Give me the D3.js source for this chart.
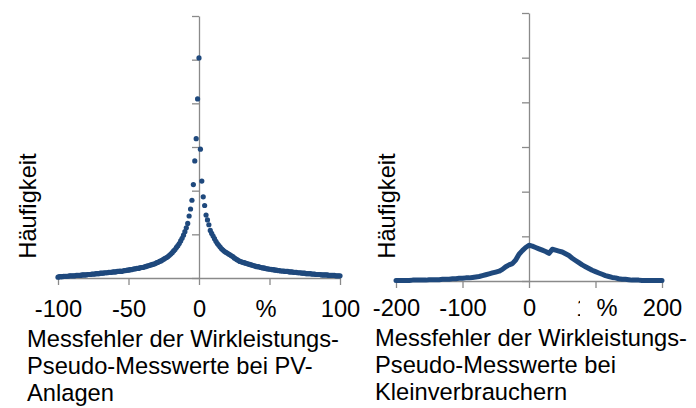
<!DOCTYPE html>
<html>
<head>
<meta charset="utf-8">
<script src="https://cdn.jsdelivr.net/npm/d3@7"></script>
<style>
  body { margin: 0; background: #fff; }
  svg { display: block; font-family: 'Liberation Sans', Arial, sans-serif; }
</style>
</head>
<body>
<svg id="chart" width="696" height="408"></svg>
<script>
// left panel: PV error histogram, 1 % bins
const pvBins = d3.range(-100, 101);
const pvCounts = [
  0.02, 0.03, 0.03, 0.03, 0.04, 0.04, 0.04, 0.04, 0.05, 0.05, 0.05,
  0.05, 0.05, 0.06, 0.06, 0.06, 0.06, 0.07, 0.07, 0.07, 0.07,
  0.08, 0.08, 0.08, 0.09, 0.09, 0.09, 0.10, 0.10, 0.10, 0.11,
  0.11, 0.11, 0.12, 0.12, 0.12, 0.13, 0.13, 0.13, 0.14, 0.14,
  0.14, 0.15, 0.15, 0.16, 0.15, 0.16, 0.17, 0.17, 0.18, 0.18,
  0.19, 0.19, 0.20, 0.21, 0.21, 0.22, 0.22, 0.23, 0.24, 0.24,
  0.25, 0.26, 0.27, 0.28, 0.29, 0.30, 0.31, 0.32, 0.33, 0.35,
  0.36, 0.38, 0.39, 0.41, 0.43, 0.45, 0.47, 0.49, 0.52, 0.55,
  0.58, 0.62, 0.65, 0.70, 0.74, 0.79, 0.85, 0.91, 0.98, 1.06,
  1.15, 1.25, 1.42, 1.58, 1.78, 2.14, 2.68, 3.19, 4.10,
  5.04,
  2.95, 2.22, 1.86, 1.66, 1.44, 1.33, 1.22, 1.09, 1.02, 0.96,
  0.90, 0.84, 0.79, 0.75, 0.71, 0.67, 0.64, 0.61, 0.59, 0.57,
  0.55, 0.53, 0.51, 0.49, 0.46, 0.44, 0.42, 0.40, 0.38, 0.37,
  0.36, 0.35, 0.34, 0.33, 0.32, 0.31, 0.30, 0.29, 0.28, 0.27,
  0.26, 0.26, 0.25, 0.24, 0.23, 0.23, 0.22, 0.21, 0.21, 0.20,
  0.20, 0.19, 0.19, 0.18, 0.18, 0.17, 0.17, 0.16, 0.16, 0.16,
  0.15, 0.15, 0.15, 0.14, 0.14, 0.14, 0.13, 0.13, 0.13, 0.12,
  0.12, 0.12, 0.11, 0.11, 0.11, 0.10, 0.10, 0.10, 0.10, 0.09,
  0.09, 0.09, 0.08, 0.08, 0.08, 0.08, 0.07, 0.07, 0.07, 0.07,
  0.07, 0.06, 0.06, 0.06, 0.06, 0.06, 0.05, 0.05, 0.05, 0.05
];

// right panel: small consumers, 5 % bins
const loadBins = d3.range(-200, 201, 5);
const loadCounts = [
  0.01, 0.01, 0.01, 0.01, 0.01, 0.02, 0.02, 0.02, 0.02, 0.02,
  0.03, 0.03, 0.03, 0.03, 0.04, 0.04, 0.04, 0.05, 0.05, 0.06,
  0.06, 0.07, 0.07, 0.08, 0.09, 0.10, 0.12, 0.14, 0.16, 0.18,
  0.20, 0.22, 0.26, 0.32, 0.36, 0.39, 0.47, 0.60, 0.68, 0.75,
  0.80,
  0.78, 0.75, 0.72, 0.69, 0.66, 0.62, 0.71, 0.69, 0.67, 0.65,
  0.61, 0.57, 0.51, 0.46, 0.41, 0.36, 0.32, 0.28, 0.24, 0.21,
  0.18, 0.15, 0.12, 0.10, 0.08, 0.07, 0.05, 0.04, 0.04, 0.03,
  0.02, 0.02, 0.02, 0.01, 0.01, 0.01, 0.01, 0.01, 0.01, 0.01
];

const pvTicks = [-100, -50, 0, 50, 100];
const loadTicks = [-200, -100, 0, 100, 200];
const yTicks = [0, 1, 2, 3, 4, 5, 6];
const yLabel = 'Häufigkeit';
const unitLabel = '%';
const pvTitle = ['Messfehler der Wirkleistungs-', 'Pseudo-Messwerte bei PV-', 'Anlagen'];
const loadTitle = ['Messfehler der Wirkleistungs-', 'Pseudo-Messwerte bei', 'Kleinverbrauchern'];

const blue = '#1f497d';
const grey = '#8a8a8a';
const fontSize = 23.7;

const svg = d3.select('#chart');

function panel(cfg) {
  const x = d3.scaleLinear().domain(cfg.xDomain).range(cfg.xRange);
  const y = d3.scaleLinear().domain([0, 6]).range(cfg.yRange);
  const g = svg.append('g');

  // x axis, plain hyphen minus like the original; the tick under the unit box may be hidden
  const xAxis = g.append('g')
    .attr('transform', `translate(0,${y(0)})`)
    .call(d3.axisBottom(x)
      .tickValues(cfg.ticks)
      .tickSize(7)
      .tickSizeOuter(0)
      .tickPadding(cfg.tickPad)
      .tickFormat(d => d === cfg.hiddenTick ? '' : String(d)));
  xAxis.selectAll('line, path').attr('stroke', grey).attr('stroke-width', 1.3);
  xAxis.selectAll('text')
    .attr('font-size', fontSize)
    .attr('font-family', 'Liberation Sans, Arial, sans-serif')
    .attr('fill', '#000');

  // y axis without labels
  const yAxis = g.append('g')
    .attr('transform', `translate(${x(0)},0)`)
    .call(d3.axisLeft(y).tickValues(yTicks).tickSize(7).tickSizeOuter(0).tickFormat(''));
  yAxis.selectAll('line, path').attr('stroke', grey).attr('stroke-width', 1.3);

  // unit label sits on a white box over one tick label
  const labelY = y(0) + 7 + cfg.tickPad;
  g.append('rect')
    .attr('x', cfg.unitX - 27)
    .attr('y', labelY - 3)
    .attr('width', 54)
    .attr('height', 30)
    .attr('fill', '#fff');
  g.append('text')
    .attr('x', cfg.unitX)
    .attr('y', labelY)
    .attr('dy', '0.71em')
    .attr('text-anchor', 'middle')
    .attr('font-size', fontSize)
    .text(unitLabel);

  // y label
  g.append('text')
    .attr('transform', `translate(${cfg.yLabelX},${cfg.yLabelY}) rotate(-90)`)
    .attr('text-anchor', 'middle')
    .attr('font-size', fontSize)
    .text(yLabel);

  // x title
  g.append('text')
    .attr('font-size', fontSize)
    .selectAll('tspan')
    .data(cfg.title)
    .join('tspan')
    .attr('x', cfg.titleX)
    .attr('y', (d, i) => cfg.titleY + i * 27)
    .text(d => d);

  return { g, x, y };
}

const left = panel({
  xDomain: [-100, 100], xRange: [58, 340], yRange: [278, 16],
  ticks: pvTicks, hiddenTick: 50, tickPad: 15, unitX: 266,
  yLabelX: 36, yLabelY: 206, title: pvTitle, titleX: 27, titleY: 347
});

left.g.append('g')
  .selectAll('circle')
  .data(pvBins.map((b, i) => [b, pvCounts[i]]))
  .join('circle')
  .attr('cx', d => left.x(d[0]))
  .attr('cy', d => left.y(d[1]))
  .attr('r', 2.6)
  .attr('fill', blue);

const right = panel({
  xDomain: [-200, 200], xRange: [396, 662], yRange: [281, 13],
  ticks: loadTicks, hiddenTick: null, tickPad: 11, unitX: 607,
  yLabelX: 395, yLabelY: 206, title: loadTitle, titleX: 375, titleY: 346
});

right.g.append('path')
  .datum(loadBins.map((b, i) => [b, loadCounts[i]]))
  .attr('fill', 'none')
  .attr('stroke', blue)
  .attr('stroke-width', 5)
  .attr('stroke-linejoin', 'round')
  .attr('stroke-linecap', 'round')
  .attr('d', d3.line().x(d => right.x(d[0])).y(d => right.y(d[1])));
</script>
</body>
</html>
